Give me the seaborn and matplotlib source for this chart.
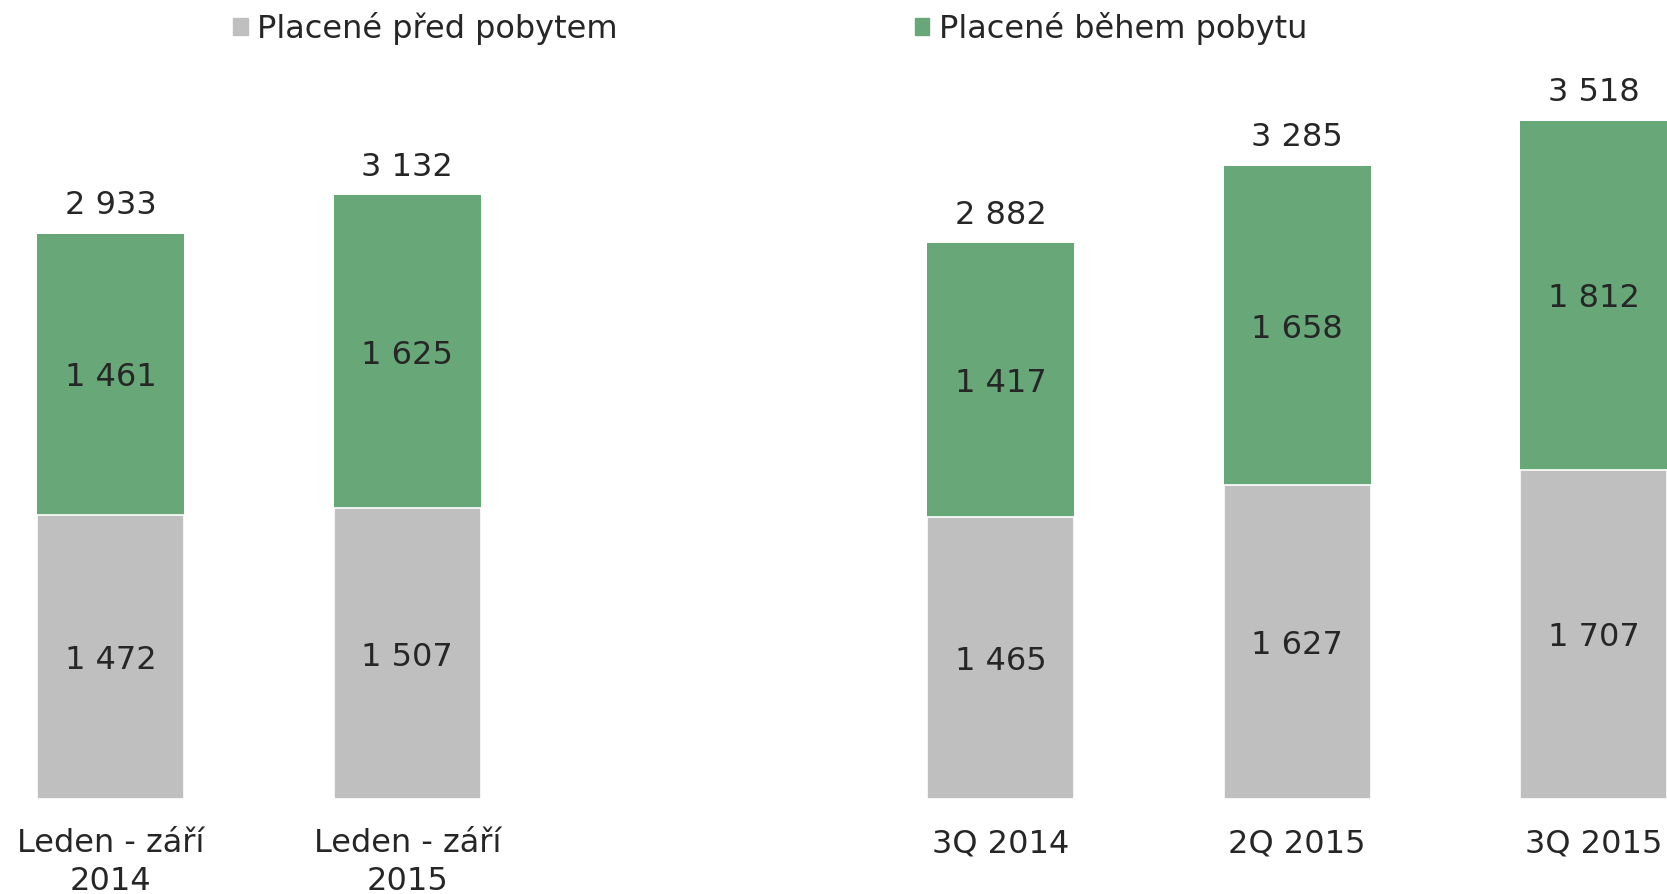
import pandas as pd
import numpy as np
import matplotlib
matplotlib.use("Agg")
import matplotlib.pyplot as plt
import seaborn as sns
from matplotlib.patches import Patch

categories = ["Leden - září\n2014", "Leden - září\n2015", " ", "3Q 2014", "2Q 2015", "3Q 2015"]
before_stay = [1472, 1507, None, 1465, 1627, 1707]
during_stay = [1461, 1625, None, 1417, 1658, 1812]
totals = [2933, 3132, None, 2882, 3285, 3518]
label_before = "Placené před pobytem"
label_during = "Placené během pobytu"

gray = "#bfbfbf"
green = "#67a778"
txt = "#262626"

sns.set_style("white")
plt.rcParams["font.family"] = ["DejaVu Sans"]

df = pd.DataFrame({"cat": categories, "before": before_stay,
                   "during": during_stay, "total": totals})
df = df.dropna()

fig = plt.figure(figsize=(16.67, 8.94), dpi=100)
ax = fig.add_axes([0, 0.1063, 1, 0.8937])

sns.barplot(data=df, x="cat", y="total", order=categories, color=green,
            saturation=1, width=0.495, ax=ax, linewidth=0)
sns.barplot(data=df, x="cat", y="before", order=categories, color=gray,
            saturation=1, width=0.495, ax=ax, edgecolor="white", linewidth=1.2)

fs = 23
fmt = lambda v: f"{int(v):,}".replace(",", " ")
for i, cat in enumerate(categories):
    row = df[df["cat"] == cat]
    if row.empty:
        continue
    b = row["before"].iloc[0]
    d = row["during"].iloc[0]
    t = row["total"].iloc[0]
    ax.annotate(fmt(b), (i, b / 2), xytext=(0, -2.5), textcoords="offset points",
                ha="center", va="center", fontsize=fs, color=txt)
    ax.annotate(fmt(d), (i, b + d / 2), xytext=(0, -2.5), textcoords="offset points",
                ha="center", va="center", fontsize=fs, color=txt)
    ax.annotate(fmt(t), (i, b + d), xytext=(0, 14), textcoords="offset points",
                ha="center", va="baseline", fontsize=fs, color=txt)

ax.set_xlim(-0.373, 5.247)
ax.set_ylim(0, 4145)
ax.set_xlabel("")
ax.set_ylabel("")
ax.set_yticks([])
ax.tick_params(axis="x", length=0, pad=21, labelsize=fs, labelcolor=txt)
for lab in ax.get_xticklabels():
    lab.set_linespacing(1.3)
sns.despine(ax=ax, left=True, bottom=True)

handles = [Patch(color=gray, label=label_before), Patch(color=green, label=label_during)]
fig.legend(handles=handles, loc="center left", bbox_to_anchor=(0.140, 0.968),
           ncol=2, frameon=False, fontsize=fs, handlelength=0.45, handleheight=0.45,
           handletextpad=0.3, columnspacing=9.3, borderpad=0, borderaxespad=0,
           labelcolor=txt)

fig.savefig("out.png", dpi=100)
